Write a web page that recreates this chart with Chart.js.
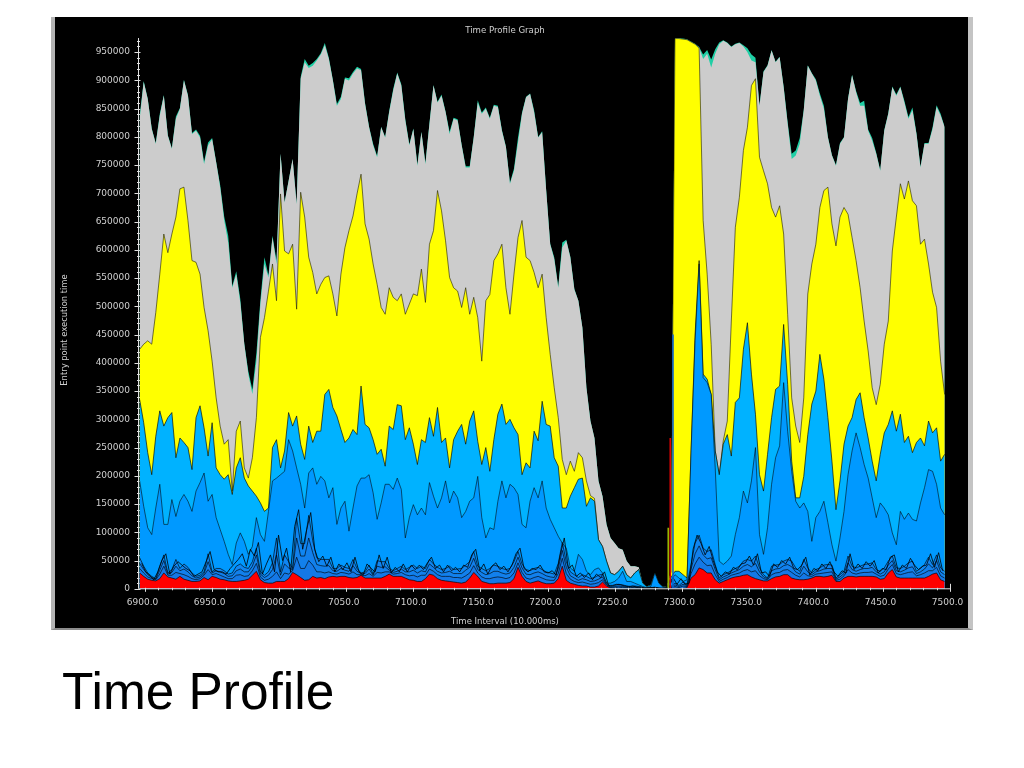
<!DOCTYPE html>
<html>
<head>
<meta charset="utf-8">
<title>Time Profile</title>
<script src="https://cdn.jsdelivr.net/npm/chart.js@4/dist/chart.umd.min.js"></script>
<style>
  html, body { margin: 0; padding: 0; background: #fff; width: 1024px; height: 768px; overflow: hidden; }
  #frame { position: absolute; left: 51px; top: 17px; width: 913px; height: 611px; background: #000;
           border-left: 4px solid #b4b4b4; border-right: 5px solid #c4c4c4; border-bottom: 2px solid #8c8c8c; }
  #chart { position: absolute; left: 0; top: 0; }
  #heading { position: absolute; left: 62px; top: 662px; font: 51.4px "Liberation Sans", Arial, sans-serif; color: #000; line-height: 58px; }
</style>
</head>
<body>
<div id="frame"></div>
<canvas id="chart" width="1024" height="768"></canvas>
<div id="heading">Time Profile</div>
<script>
// time intervals start at 6896 and go up in steps of 3, one sample per value below
const firstInterval = 6896;
const intervalStep = 3;
const xTickStep = 10;
const xTickFirst = 6900;
const xTickLast = 7500;
const xLabelEvery = 50;
const yTickStep = 10000;
const yTickLast = 970000;
const yLabelEvery = 50000;

// all values in thousands, each list is the top edge of that colour
const tealExtra = [
  6,2,1,1,1,3,1,1,1,4,
  1,1,1,2,2,3,4,5,2,1,
  4,7,12,3,5,6,1,5,8,14,
  8,12,4,3,6,0,0,0,0,0,
  3,6,4,5,3,2,4,2,1,3,
  4,2,4,3,3,2,2,1,3,2,
  1,1,2,3,2,2,2,2,1,2,
  1,2,1,1,1,2,1,4,2,2,
  1,2,2,1,4,2,2,2,2,2,
  1,1,2,4,9,2,1,1,3,1,
  2,1,1,3,2,9,2,1,1,0,
  0,0,0,0,0,0,0,0,0,0,
  0,0,0,0,0,0,0,0,0,0,
  0,0,0,1,1,1,1,1,1,1,
  8,7,14,8,3,1,1,1,1,1,
  2,7,11,8,1,1,1,1,1,1,
  1,3,9,9,10,1,1,1,2,4,
  5,1,1,1,1,1,1,1,2,5,
  9,2,5,2,1,1,1,1,2,1,
  3,3,5,2,1,1,1,3,3,3,
  1
];
const grayTop = [
  832,897,867,814,788,838,873,802,779,832,
  850,900,873,805,811,799,752,785,796,755,
  711,652,613,533,557,507,433,380,345,403,
  504,575,551,622,575,770,684,722,761,681,
  903,932,922,926,935,946,962,938,900,855,
  867,903,900,912,921,918,858,817,785,764,
  817,799,844,882,912,891,829,785,814,749,
  808,752,823,891,861,873,844,805,832,829,
  785,746,746,799,861,841,850,832,855,853,
  811,782,717,740,790,841,870,876,844,799,
  808,705,610,584,533,604,616,587,530,510,
  462,356,297,267,191,164,114,90,81,72,
  69,49,40,40,38,10,4,7,28,10,
  4,3,30,974,974,973,972,968,964,958,
  938,947,923,947,964,970,966,959,964,966,
  960,950,935,932,855,915,926,953,932,941,
  888,823,761,767,788,847,926,912,900,873,
  850,799,767,749,788,799,867,909,879,855,
  855,811,793,770,740,811,841,888,873,888,
  861,832,847,805,746,788,788,814,853,838,
  817
];
const yellowTop = [
  424,433,439,433,489,557,628,595,628,658,
  708,711,652,581,578,557,498,457,403,338,
  288,256,264,173,279,297,214,196,232,303,
  445,480,527,575,510,699,598,593,610,495,
  702,658,587,560,522,539,551,554,522,483,
  557,604,634,660,699,734,646,619,575,539,
  498,486,533,516,510,522,486,504,522,519,
  566,507,610,634,705,669,616,551,533,527,
  498,533,486,516,480,403,510,521,581,593,
  610,533,486,557,622,652,587,581,560,533,
  557,480,415,356,303,229,202,226,208,241,
  232,191,165,160,87,75,49,28,25,31,
  40,25,19,28,34,10,4,7,28,10,
  4,3,30,974,974,973,972,968,964,957,
  652,557,433,244,202,262,297,474,640,693,
  776,817,891,903,764,740,717,675,658,678,
  628,486,338,288,259,338,522,575,610,675,
  705,711,646,607,658,675,663,622,581,533,
  474,421,356,326,362,433,474,598,658,717,
  690,722,687,678,610,619,575,525,498,403,
  344
];
const lightBlueTop = [
  335,294,241,202,270,315,288,303,312,232,
  267,259,250,211,303,324,285,235,294,214,
  202,194,202,167,214,232,196,182,173,164,
  152,137,143,250,264,214,244,312,288,306,
  256,229,288,259,279,279,344,353,321,306,
  282,259,267,282,273,359,291,285,264,238,
  247,217,288,282,326,324,264,285,256,220,
  264,259,303,270,321,259,267,214,264,279,
  291,256,297,315,261,220,250,208,264,309,
  327,291,300,285,273,202,223,214,279,262,
  332,291,288,232,217,143,143,164,179,194,
  196,146,161,155,87,75,49,28,25,31,
  40,25,19,28,34,10,4,7,28,10,
  4,3,20,31,31,25,19,244,451,581,
  380,371,344,244,202,256,273,235,330,338,
  424,471,380,309,202,173,238,303,353,359,
  468,362,226,161,161,199,273,327,350,415,
  371,303,226,140,191,256,288,303,335,347,
  303,267,226,191,238,276,291,315,279,309,
  259,270,241,259,267,253,297,276,285,226,
  238
];
const midBlueTop = [
  191,146,108,96,143,185,114,114,158,128,
  155,167,155,137,173,188,205,155,167,126,
  105,84,61,43,81,99,84,61,75,126,
  96,84,137,191,196,202,208,264,244,214,
  185,143,205,214,185,199,191,161,179,114,
  143,155,102,143,182,196,196,202,170,123,
  152,185,185,176,196,176,90,126,149,131,
  143,131,188,164,143,161,191,152,173,161,
  126,137,155,161,199,126,90,108,105,155,
  191,161,185,179,167,114,108,155,179,161,
  191,143,123,108,93,81,72,37,31,61,
  52,31,25,34,37,28,10,10,13,19,
  31,13,13,10,7,4,2,4,28,10,
  3,2,15,25,19,13,16,244,439,575,
  374,365,344,214,49,43,49,58,96,126,
  173,152,191,250,96,61,108,185,232,253,
  365,279,208,155,143,152,137,84,126,137,
  155,117,78,49,90,137,202,244,276,250,
  220,196,161,126,152,143,131,99,78,137,
  123,134,123,120,152,179,211,208,185,143,
  131
];
const bandTop = [
  55,40,28,22,18,40,60,28,34,52,
  36,44,38,28,22,24,30,62,30,36,
  36,32,26,28,40,44,38,36,48,72,
  30,24,30,46,90,30,60,48,36,125,
  80,80,130,85,55,52,52,52,36,36,
  42,38,36,52,36,28,30,42,26,50,
  48,48,36,32,36,40,34,38,42,36,
  40,36,52,44,38,34,36,40,34,35,
  36,42,48,66,40,36,32,36,42,40,
  36,34,36,48,66,44,34,32,36,38,
  34,30,28,26,45,82,48,30,25,20,
  25,22,18,20,24,26,10,4,6,8,
  7,5,4,5,4,2,1,2,3,1,
  1,1,4,10,6,12,8,43,81,95,
  72,66,69,43,19,25,28,32,36,40,
  49,52,49,58,37,25,19,40,42,43,
  49,52,49,37,31,52,37,28,34,37,
  42,43,42,19,25,31,58,40,37,40,
  43,44,46,34,31,37,49,58,37,36,
  40,46,49,31,36,43,56,43,60,37,
  31
];
const bandHigh = [
  45,34,25,20,17,33,50,26,29,40,
  32,35,30,23,19,21,27,48,28,32,
  30,27,22,23,32,35,30,30,40,60,
  26,20,24,34,60,24,44,37,34,90,
  58,58,90,64,43,41,40,41,32,31,
  36,33,31,41,31,27,27,35,24,40,
  38,39,33,29,31,35,30,30,33,28,
  32,30,44,38,31,28,29,31,27,27,
  27,33,38,54,34,29,25,27,31,31,
  28,26,28,38,56,37,26,25,28,30,
  27,23,21,20,36,68,38,23,19,15,
  18,16,13,14,17,21,8,3,4,5,
  4,3,2,3,2,1,1,1,2,1,
  1,1,2,7,4,8,6,35,62,76,
  60,53,55,34,16,21,24,28,31,34,
  40,43,39,45,30,21,18,32,35,36,
  41,43,39,30,26,40,30,25,30,32,
  35,36,36,17,21,27,46,34,31,34,
  36,36,38,30,26,30,42,50,32,30,
  33,37,39,27,30,35,44,37,50,30,
  25
];
const bandLow = [
  36,28,21,18,16,26,40,24,24,29,
  27,25,22,18,16,18,24,34,25,27,
  24,21,18,18,24,25,22,23,32,45,
  21,15,17,22,30,18,28,26,32,56,
  36,36,50,42,30,30,28,30,27,26,
  29,28,26,30,25,25,23,27,22,29,
  28,30,30,26,27,29,25,23,24,21,
  24,24,35,31,25,22,22,22,20,20,
  19,23,28,41,28,21,18,18,20,21,
  20,18,20,28,46,29,19,17,20,22,
  19,16,15,15,27,54,27,17,13,11,
  12,10,8,9,11,16,7,2,2,3,
  2,2,1,2,1,1,0.5,1,1,0.5,
  0.5,0.5,1,4,2,5,4,27,44,56,
  47,41,42,25,13,17,20,24,26,28,
  32,34,30,32,23,18,16,25,28,29,
  33,34,29,24,21,28,23,22,26,27,
  28,29,30,15,17,23,34,28,26,28,
  29,29,30,26,22,24,35,43,27,25,
  27,29,30,23,25,28,32,32,38,23,
  19
];
const redTop = [
  28,22,17,15,14,18,28,21,19,17,
  22,17,15,13,13,14,20,16,22,20,
  17,16,14,13,13,14,15,17,24,31,
  16,11,10,10,13,13,13,18,29,25,
  20,15,16,22,19,20,18,21,22,21,
  22,22,20,19,20,24,19,19,19,19,
  19,22,26,22,22,22,19,16,15,13,
  13,18,26,24,18,15,14,13,12,11,
  10,12,19,29,22,13,11,9,9,10,
  10,10,11,18,38,22,13,10,12,14,
  11,9,9,10,18,40,15,10,8,6,
  5,5,3,3,5,12,5,1,0,0,
  0,0,0,0,0,0,0,0,0,0,
  0,0,0,1,0,1,2,19,25,37,
  34,28,28,16,10,13,16,19,21,22,
  24,25,21,18,16,14,14,18,21,22,
  25,25,19,17,16,16,17,19,22,22,
  21,22,24,13,13,19,22,22,21,22,
  22,22,22,21,17,18,28,34,21,19,
  19,19,19,19,19,19,22,26,28,16,
  13
];
// the busy black trace over the low bands, sampled half a step later
const clusterTrace = [
  45,30,24,16,30,50,62,26,40,48,
  42,36,32,22,26,30,48,66,34,30,
  30,26,36,44,52,62,40,70,58,82,
  26,44,60,30,95,50,72,30,110,140,
  70,105,135,70,48,58,40,56,30,44,
  34,46,30,56,30,24,44,36,30,60,
  36,56,28,38,30,44,30,42,34,42,
  34,46,56,36,42,30,42,32,38,30,
  42,38,60,70,32,44,26,40,46,34,
  40,30,42,62,72,36,30,36,34,42,
  30,28,32,24,60,90,36,42,22,28,
  20,28,16,26,20,30,6,6,8,7,
  5,4,5,3,3,1,2,2,2,1,
  1,2,20,8,18,8,10,70,95,80,
  60,75,50,30,22,30,26,38,34,44,
  46,58,42,62,28,30,22,44,38,50,
  44,56,36,34,42,56,24,36,32,44,
  36,48,30,22,32,28,62,34,44,36,
  48,40,50,28,36,34,56,60,30,42,
  36,54,42,34,40,42,62,38,64,32
];
// the thin bars just before the second run
const spikeIntervals = [7290, 7291.5, 7293.5];
const spikeValues = [108, 267, 450];
const spikeColors = ['#9ab800', '#e00000', '#0a5fd0'];

function toPoints(values, shift) {
    return values.map((v, i) => ({x: firstInterval + (i + shift) * intervalStep, y: v * 1000}));
}

function areaSet(label, values, color, line) {
    return {
        label: label,
        data: toPoints(values, 0),
        backgroundColor: color,
        borderColor: line ? line : color,
        borderWidth: line ? 0.8 : 0,
        pointRadius: 0,
        tension: 0,
        fill: 'origin'
    };
}

const outline = 'rgba(0,0,0,0.8)';
const spikeSets = spikeIntervals.map((t, i) => ({
    label: 'spike' + i,
    data: [{x: t, y: 0}, {x: t, y: spikeValues[i] * 1000}],
    borderColor: spikeColors[i],
    borderWidth: 1.6,
    pointRadius: 0,
    fill: false
}));

// first in the list is painted last
const datasets = spikeSets.concat([
    {
        label: 'cluster trace',
        data: toPoints(clusterTrace, 0.5),
        borderColor: '#000',
        borderWidth: 0.8,
        pointRadius: 0,
        tension: 0,
        fill: false
    },
    areaSet('red', redTop, '#ff0000', outline),
    areaSet('band low', bandLow, '#1478e6', outline),
    areaSet('band high', bandHigh, '#1280ec', outline),
    areaSet('band top', bandTop, '#0f86f2', outline),
    areaSet('mid blue', midBlueTop, '#0099ff', 'rgba(0,0,0,0.7)'),
    areaSet('light blue', lightBlueTop, '#00b2ff', outline),
    areaSet('yellow', yellowTop, '#ffff00', 'rgba(30,30,0,0.75)'),
    areaSet('gray', grayTop, '#cccccc'),
    areaSet('teal', grayTop.map((v, i) => v + tealExtra[i]), '#1fcfa5')
]);

const tickColor = '#e0e0e0';
const axisMarks = {
    id: 'axisMarks',
    beforeDatasetsDraw(chart) {
        const ctx = chart.ctx;
        const y = chart.scales.y;
        const left = chart.chartArea.left - 0.5;
        ctx.save();
        ctx.strokeStyle = tickColor;
        ctx.lineWidth = 1;
        ctx.beginPath();
        ctx.moveTo(left, y.top);
        ctx.lineTo(left, y.bottom);
        y.ticks.forEach(t => {
            const py = Math.round(y.getPixelForValue(t.value)) + 0.5;
            const major = t.value % yLabelEvery === 0;
            ctx.moveTo(left - (major ? 4 : 1.5), py);
            ctx.lineTo(left + (major ? 2 : 1.5), py);
        });
        ctx.stroke();
        // y axis title sits off the axis middle in the original
        ctx.fillStyle = '#d0d0d0';
        ctx.font = '8.4px "DejaVu Sans"';
        ctx.textAlign = 'center';
        ctx.textBaseline = 'middle';
        ctx.translate(65, 330);
        ctx.rotate(-Math.PI / 2);
        ctx.fillText('Entry point execution time', 0, 0);
        ctx.restore();
    },
    afterDatasetsDraw(chart) {
        const ctx = chart.ctx;
        const x = chart.scales.x;
        const base = chart.chartArea.bottom;
        ctx.save();
        ctx.strokeStyle = tickColor;
        ctx.lineWidth = 1;
        ctx.beginPath();
        ctx.moveTo(x.left, base);
        ctx.lineTo(x.right, base);
        x.ticks.forEach(t => {
            const px = Math.round(x.getPixelForValue(t.value)) + 0.5;
            const major = t.value % xLabelEvery === 0;
            const last = t.value === xTickLast;
            ctx.moveTo(px, base - (last ? 5 : 1));
            ctx.lineTo(px, base + (major ? 3 : 1.5));
        });
        ctx.stroke();
        ctx.restore();
    }
};

function listTicks(first, last, step) {
    const ticks = [];
    for (let v = first; v <= last; v += step) ticks.push({value: v});
    return ticks;
}

new Chart(document.getElementById('chart').getContext('2d'), {
    type: 'line',
    data: {datasets: datasets},
    options: {
        responsive: false,
        animation: false,
        devicePixelRatio: 1,
        layout: {padding: {left: 60, right: 74, top: 17, bottom: 141}},
        plugins: {
            legend: {display: false},
            tooltip: {enabled: false},
            title: {
                display: true,
                text: 'Time Profile Graph',
                color: '#d0d0d0',
                font: {family: 'DejaVu Sans', size: 8.6, weight: 'normal'},
                padding: {top: 9, bottom: 1.7}
            },
            subtitle: {
                display: true,
                position: 'bottom',
                text: 'Time Interval (10.000ms)',
                color: '#d0d0d0',
                font: {family: 'DejaVu Sans', size: 8.5, weight: 'normal'},
                padding: {top: 8, bottom: 0}
            }
        },
        scales: {
            x: {
                type: 'linear',
                min: 6895.5,
                max: 7500,
                bounds: 'data',
                afterBuildTicks(scale) { scale.ticks = listTicks(xTickFirst, xTickLast, xTickStep); },
                afterFit(scale) { scale.height = 20; },
                grid: {display: false, drawTicks: false},
                border: {display: false},
                ticks: {
                    autoSkip: false,
                    maxRotation: 0,
                    minRotation: 0,
                    padding: 8,
                    labelOffset: -2.5,
                    color: '#d0d0d0',
                    font: {family: 'DejaVu Sans', size: 9},
                    callback: v => (v % xLabelEvery === 0 ? v.toFixed(1) : '')
                }
            },
            y: {
                type: 'linear',
                min: 0,
                max: 975000,
                bounds: 'data',
                afterBuildTicks(scale) { scale.ticks = listTicks(0, yTickLast, yTickStep); },
                afterFit(scale) { scale.width = 79; },
                grid: {display: false, drawTicks: false},
                border: {display: false},
                ticks: {
                    autoSkip: false,
                    padding: 9,
                    color: '#d0d0d0',
                    font: {family: 'DejaVu Sans', size: 9},
                    callback: v => (v % yLabelEvery === 0 ? String(v) : '')
                }
            }
        }
    },
    plugins: [axisMarks]
});
</script>
</body>
</html>
